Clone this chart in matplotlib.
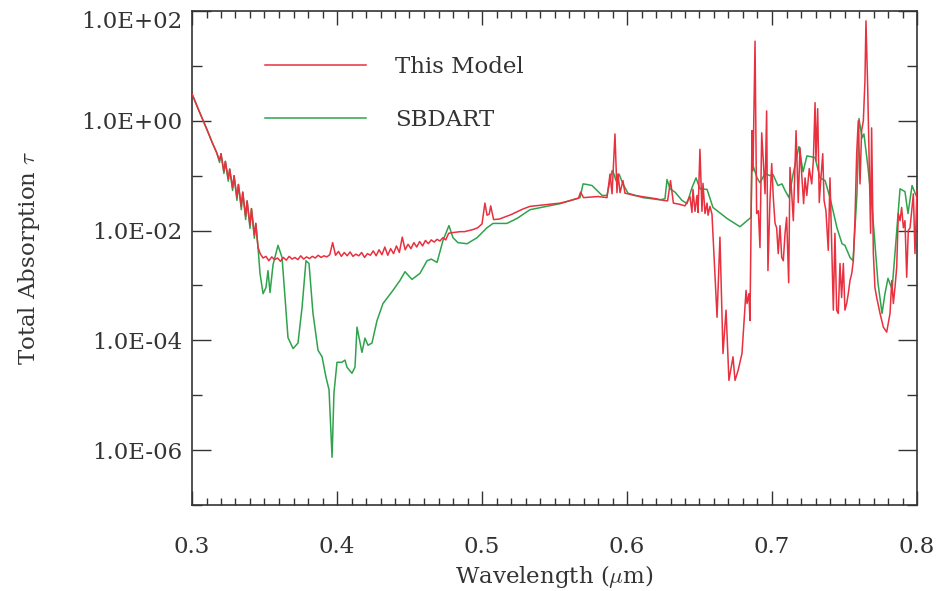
import numpy as np
import matplotlib
matplotlib.use("Agg")
import matplotlib.pyplot as plt
from matplotlib.ticker import FixedLocator, FuncFormatter, MultipleLocator

# ---------------- data (log10 of total absorption tau) -------------
red_wl = [0.300, 0.305, 0.310, 0.314, 0.317, 0.319, 0.320, 0.322, 0.323, 0.325, 0.326, 0.328,
          0.329, 0.331, 0.332, 0.334, 0.335, 0.337, 0.338, 0.340, 0.341, 0.343, 0.344, 0.3455,
          0.347, 0.349, 0.351, 0.353, 0.355, 0.357, 0.359, 0.361, 0.363, 0.365, 0.367, 0.369,
          0.371, 0.373, 0.375, 0.377, 0.379, 0.381, 0.383, 0.385, 0.387, 0.389, 0.391, 0.393,
          0.395, 0.397, 0.399, 0.401, 0.403, 0.405, 0.407, 0.409, 0.411, 0.413, 0.415, 0.417,
          0.419, 0.421, 0.423, 0.425, 0.427, 0.429, 0.431, 0.433, 0.435, 0.437, 0.439, 0.441,
          0.443, 0.445, 0.447, 0.449, 0.451, 0.453, 0.455, 0.457, 0.459, 0.461, 0.463, 0.465,
          0.467, 0.469, 0.471, 0.473, 0.475, 0.477, 0.479, 0.482, 0.485, 0.488, 0.491, 0.494,
          0.497, 0.500, 0.502, 0.5035, 0.505, 0.506, 0.508, 0.512, 0.516, 0.520, 0.524, 0.528,
          0.533, 0.540, 0.547, 0.554, 0.560, 0.5665, 0.568, 0.570, 0.575, 0.580, 0.5862, 0.5883,
          0.5897, 0.5917, 0.5931, 0.5938, 0.5952, 0.5972, 0.5986, 0.6007, 0.605, 0.610, 0.615,
          0.620, 0.625, 0.628, 0.630, 0.632, 0.636, 0.640, 0.6434, 0.6448, 0.6455, 0.6469,
          0.6483, 0.6490, 0.6503, 0.6517, 0.6524, 0.6538, 0.6552, 0.6559, 0.6572, 0.6586,
          0.6621, 0.6641, 0.6662, 0.6683, 0.6703, 0.6731, 0.6745, 0.6766, 0.6793, 0.6821,
          0.6828, 0.6841, 0.6848, 0.6855, 0.6862, 0.6869, 0.6883, 0.6894, 0.6906, 0.6917,
          0.6929, 0.6940, 0.6952, 0.6963, 0.6972, 0.6986, 0.6998, 0.7009, 0.7021, 0.7032,
          0.7043, 0.7055, 0.7067, 0.7078, 0.7090, 0.7101, 0.7115, 0.7124, 0.7136, 0.7147,
          0.7166, 0.7181, 0.7193, 0.7218, 0.7228, 0.7240, 0.7257, 0.7274, 0.7285, 0.7297,
          0.7303, 0.7315, 0.7326, 0.7336, 0.7350, 0.7359, 0.7372, 0.7388, 0.7400, 0.7412,
          0.7423, 0.7434, 0.7446, 0.7457, 0.7469, 0.7480, 0.7492, 0.7503, 0.7515, 0.7526,
          0.7538, 0.7550, 0.7561, 0.7572, 0.7584, 0.7595, 0.7607, 0.7618, 0.7630, 0.7641,
          0.7648, 0.7660, 0.7669, 0.7680, 0.7687, 0.7699, 0.7710, 0.7722, 0.7745, 0.7768,
          0.7791, 0.7814, 0.7826, 0.7837, 0.7848, 0.7860, 0.7871, 0.7883, 0.7894, 0.7906,
          0.7917, 0.7929, 0.7940, 0.7952, 0.7975, 0.7986, 0.8000]
red_log_tau = [0.49, 0.17, -0.14, -0.40, -0.58, -0.72, -0.60, -0.92, -0.74, -1.06, -0.88, -1.22,
               -1.00, -1.40, -1.16, -1.56, -1.30, -1.74, -1.46, -1.90, -1.60, -2.08, -1.87, -2.30,
               -2.42, -2.50, -2.47, -2.55, -2.48, -2.53, -2.50, -2.56, -2.49, -2.54, -2.47, -2.52,
               -2.49, -2.53, -2.46, -2.52, -2.48, -2.51, -2.47, -2.50, -2.45, -2.49, -2.46, -2.48,
               -2.44, -2.22, -2.45, -2.38, -2.47, -2.40, -2.46, -2.39, -2.47, -2.43, -2.46, -2.40,
               -2.49, -2.42, -2.45, -2.37, -2.46, -2.35, -2.44, -2.30, -2.45, -2.33, -2.42, -2.28,
               -2.40, -2.12, -2.35, -2.25, -2.33, -2.22, -2.30, -2.20, -2.28, -2.18, -2.24, -2.17,
               -2.21, -2.16, -2.19, -2.13, -2.17, -2.05, -2.04, -2.03, -2.02, -2.02, -2.00, -1.98,
               -1.95, -1.88, -1.50, -1.72, -1.70, -1.55, -1.80, -1.79, -1.75, -1.71, -1.66, -1.61,
               -1.56, -1.54, -1.52, -1.50, -1.46, -1.41, -1.30, -1.40, -1.39, -1.38, -1.40, -0.97,
               -1.33, -0.24, -1.31, -0.97, -1.31, -1.09, -1.32, -1.33, -1.36, -1.38, -1.40,
               -1.42, -1.45, -1.46, -1.09, -1.50, -1.52, -1.55, -1.38, -1.67, -1.25, -1.65,
               -1.36, -1.67, -0.52, -1.65, -1.14, -1.69, -1.50, -1.72, -1.56, -1.70,
               -3.58, -2.12, -4.24, -3.45, -4.73, -4.30, -4.73, -4.55, -4.24, -3.09,
               -3.33, -3.15, -3.64, -2.05, -0.18, -0.91, 1.45, -1.69, -1.64, -2.31,
               -0.22, -0.73, -1.33, 0.18, -2.73, -1.45, -0.78, -1.40, -1.87, -1.95,
               -2.42, -1.91, -2.49, -2.55, -2.05, -1.76, -2.95, -0.85, -1.33, -1.82,
               -0.18, -1.49, -0.49, -1.51, -1.04, -1.36, -0.87, -1.15, -0.73, 0.33,
               -0.73, 0.22, -1.49, -1.09, -0.60, -1.45, -1.64, -2.36, -1.04, -2.31,
               -3.45, -2.05, -3.45, -3.51, -2.60, -3.22, -2.60, -3.45, -3.33, -3.15,
               -2.91, -2.78, -2.55, -1.82, -0.60, 0.00, -1.15, -0.18, 0.00, 0.73,
               1.82, 0.60, -0.60, -2.05, -0.13, -2.42, -3.04, -3.22, -3.51, -3.76,
               -3.85, -3.51, -2.91, -3.33, -3.04, -2.67, -1.69, -1.82, -1.58, -1.95,
               -1.82, -2.85, -2.00, -1.95, -1.33, -2.42, -1.27]

green_wl = [0.300, 0.305, 0.310, 0.314, 0.317, 0.319, 0.320, 0.322, 0.323, 0.325, 0.326, 0.328,
            0.329, 0.331, 0.332, 0.334, 0.335, 0.337, 0.338, 0.340, 0.341, 0.343, 0.344, 0.3455,
            0.3469, 0.3490, 0.3510, 0.3524, 0.3538, 0.3559, 0.3593, 0.3621, 0.3641, 0.3662,
            0.3697, 0.3731, 0.3759, 0.3786, 0.3807, 0.3834, 0.3869, 0.3897, 0.3924, 0.3945,
            0.3966, 0.3979, 0.4000, 0.4034, 0.4055, 0.4069, 0.4103, 0.4124, 0.4138, 0.4172,
            0.4193, 0.4214, 0.4241, 0.4276, 0.4317, 0.4386, 0.4434, 0.4469, 0.4517, 0.4572,
            0.4621, 0.4650, 0.4690, 0.4731, 0.4772, 0.4800, 0.4834, 0.4897, 0.4966, 0.5034,
            0.5076, 0.5172, 0.5241, 0.5331, 0.5538, 0.5676, 0.5697, 0.5724, 0.5759, 0.5793,
            0.5828, 0.5862, 0.5883, 0.5897, 0.5910, 0.5924, 0.5945, 0.5972, 0.6007, 0.6110,
            0.6228, 0.6262, 0.6276, 0.6297, 0.6331, 0.6379, 0.6414, 0.6448, 0.6476, 0.6503,
            0.6552, 0.6593, 0.6690, 0.6779, 0.6828, 0.6855, 0.6862, 0.6897, 0.6917, 0.6952,
            0.6986, 0.7007, 0.7041, 0.7069, 0.7090, 0.7117, 0.7145, 0.7186, 0.7214, 0.7241,
            0.7297, 0.7331, 0.7366, 0.7400, 0.7448, 0.7483, 0.7503, 0.7538, 0.7559, 0.7586,
            0.7600, 0.7621, 0.7634, 0.7662, 0.7690, 0.7710, 0.7731, 0.7759, 0.7779, 0.7800,
            0.7828, 0.7848, 0.7883, 0.7917, 0.7938, 0.7966, 0.8000]
green_log_tau = [0.49, 0.17, -0.14, -0.40, -0.58, -0.76, -0.60, -0.96, -0.74, -1.10, -0.88, -1.27,
                 -1.00, -1.45, -1.16, -1.62, -1.30, -1.80, -1.46, -1.96, -1.60, -2.14, -1.87, -2.30,
                 -2.78, -3.15, -3.04, -2.73, -3.13, -2.62, -2.27, -2.49, -3.20, -3.95,
                 -4.15, -4.05, -3.40, -2.55, -2.60, -3.50, -4.18, -4.30, -4.67, -4.90,
                 -6.13, -4.96, -4.40, -4.40, -4.36, -4.49, -4.60, -4.49, -3.76, -4.22,
                 -3.96, -4.09, -4.05, -3.64, -3.33, -3.09, -2.91, -2.75, -2.89, -2.78,
                 -2.55, -2.52, -2.58, -2.18, -1.91, -2.13, -2.22, -2.24, -2.13, -1.95,
                 -1.87, -1.87, -1.78, -1.62, -1.51, -1.40, -1.15, -1.16, -1.18, -1.27,
                 -1.36, -1.36, -1.09, -0.91, -0.97, -1.09, -0.97, -1.15, -1.32, -1.40,
                 -1.44, -1.42, -1.07, -1.24, -1.30, -1.45, -1.51, -1.22, -1.04, -1.24,
                 -1.25, -1.58, -1.78, -1.93, -1.82, -1.76, -0.76, -1.04, -1.13, -0.96,
                 -1.00, -0.98, -1.18, -1.15, -1.27, -1.40, -0.98, -0.47, -0.93, -0.64,
                 -0.67, -1.04, -1.09, -1.40, -1.95, -2.24, -2.27, -2.49, -2.55, -1.33,
                 0.04, -0.31, -0.24, -0.85, -1.58, -2.24, -2.96, -3.51, -3.15, -2.87,
                 -3.07, -2.42, -1.24, -1.29, -1.69, -1.18, -1.40]

series_labels = ["This Model", "SBDART"]
y_major = [1e-6, 1e-4, 1e-2, 1e0, 1e2]
y_minor = [1e-7, 1e-5, 1e-3, 1e-1, 1e1]

# ---------------- figure -------------
plt.rcParams["font.family"] = ["DejaVu Serif"]
plt.rcParams["mathtext.fontset"] = "cm"
txt = "#333333"

fig = plt.figure(figsize=(9.40, 5.91), dpi=100)
ax = fig.add_axes([192/940, 1 - 505/591, (917-192)/940, (505-11)/591])

ax.plot(red_wl, 10 ** np.array(red_log_tau), color="#e8303f", lw=1.1, label=series_labels[0], zorder=3)
ax.plot(green_wl, 10 ** np.array(green_log_tau), color="#2fa34c", lw=1.1, label=series_labels[1], zorder=2)

ax.set_yscale("log")
ax.set_xlim(0.3, 0.8)
ax.set_ylim(1e-7, 1e2)

ax.yaxis.set_major_locator(FixedLocator(y_major))
ax.yaxis.set_minor_locator(FixedLocator(y_minor))
ax.yaxis.set_major_formatter(FuncFormatter(lambda v, p: f"{v:.1E}"))
ax.yaxis.set_minor_formatter(FuncFormatter(lambda v, p: ""))
ax.xaxis.set_major_locator(MultipleLocator(0.1))
ax.xaxis.set_minor_locator(MultipleLocator(0.01))
ax.xaxis.set_major_formatter(FuncFormatter(lambda v, p: f"{v:.1f}"))

ax.tick_params(axis="both", which="both", direction="in", top=True, right=True,
               colors="#333333", labelcolor=txt, labelsize=16.5, width=1.0)
ax.tick_params(axis="y", which="major", length=14, pad=7)
ax.tick_params(axis="y", which="minor", length=7)
ax.tick_params(axis="x", which="major", length=10, pad=22)
ax.tick_params(axis="x", which="minor", length=5)

for s in ax.spines.values():
    s.set_color("#333333")
    s.set_linewidth(1.2)

fig.canvas.draw()
for lab in ax.get_yticklabels():
    if lab.get_text() == "1.0E+02":
        lab.set_verticalalignment("top")

ax.set_xlabel(r"Wavelength ($\mu$m)", fontsize=16.5, color=txt, labelpad=4)
ax.set_ylabel(r"Total Absorption $\tau$", fontsize=16.5, color=txt, labelpad=28)

ax.legend(loc="upper left", bbox_to_anchor=(0.072, 0.95), frameon=False, fontsize=16.5,
          handlelength=4.4, handletextpad=1.3, labelspacing=1.35, labelcolor=txt)

fig.savefig("out.png", dpi=100)
